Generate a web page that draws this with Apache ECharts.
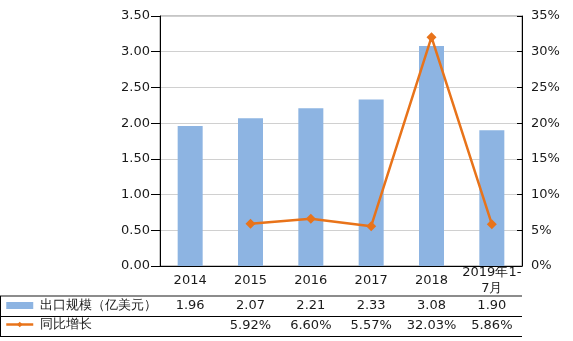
<!DOCTYPE html>
<html>
<head>
<meta charset="utf-8">
<script src="https://cdn.jsdelivr.net/npm/echarts@6/dist/echarts.min.js"></script>
<style>
  html, body { margin: 0; padding: 0; background: #fff; }
  #chart { width: 573px; height: 341px; }
</style>
</head>
<body>
<div id="chart"></div>
<script>
// Export scale (100 million USD) and year-on-year growth (%)
const categories = ['2014', '2015', '2016', '2017', '2018', '2019年1-\n7月'];
const exportValues = [1.96, 2.07, 2.21, 2.33, 3.08, 1.90];
const growthValues = [null, 5.92, 6.60, 5.57, 32.03, 5.86];
const leftTicks = { min: 0, max: 3.5, interval: 0.5 };
const rightTicks = { min: 0, max: 35, interval: 5 };
const seriesNames = ['出口规模（亿美元）', '同比增长'];

const FONT = 'DejaVu Sans';
const TEXT = '#1a1a1a';
const BAR = '#8DB4E2';
const LINE = '#E8731A';

const chart = echarts.init(document.getElementById('chart'), null, { renderer: 'canvas' });

// Rows of the data table below the plot, built as extra category axes
const exportRow = exportValues.map(v => v == null ? '' : v.toFixed(2));
const growthRow = growthValues.map(v => v == null ? '' : v.toFixed(2) + '%');

function tableAxis(data, offset) {
  return {
    type: 'category', data: data, position: 'bottom', offset: offset,
    axisLine: { show: false }, axisTick: { show: false },
    axisLabel: { color: TEXT, fontFamily: FONT, fontSize: 13, interval: 0, margin: 0, verticalAlign: 'middle' }
  };
}

const option = {
  animation: false,
  backgroundColor: '#fff',
  grid: { left: 160, right: 51, top: 16, bottom: 75, show: true, borderColor: '#8c8c8c', borderWidth: 1 },
  legend: {
    orient: 'vertical', left: 5, top: 299, itemGap: 6, padding: 0,
    itemWidth: 27, itemHeight: 7,
    textStyle: { color: TEXT, fontFamily: FONT, fontSize: 13, padding: [0, 0, 0, 2] },
    data: [
      { name: seriesNames[0], icon: 'rect' },
      { name: seriesNames[1], lineStyle: { width: 2.5, color: LINE }, itemStyle: { color: LINE } }
    ]
  },
  xAxis: [
    {
      type: 'category', data: categories, position: 'bottom',
      axisLine: { lineStyle: { color: '#000', width: 1 } },
      axisTick: { length: 70, lineStyle: { color: '#000' } },
      axisLabel: { color: TEXT, fontFamily: FONT, fontSize: 13, margin: 15, interval: 0, lineHeight: 16, verticalAlign: 'middle' }
    },
    tableAxis(exportRow, 40),
    tableAxis(growthRow, 60)
  ],
  yAxis: [
    {
      type: 'value', min: leftTicks.min, max: leftTicks.max, interval: leftTicks.interval,
      axisLine: { show: true, lineStyle: { color: '#000' } },
      axisTick: { show: true, length: 9, lineStyle: { color: '#000' } },
      axisLabel: { color: TEXT, fontFamily: FONT, fontSize: 13, margin: 10, formatter: v => v.toFixed(2) },
      splitLine: { lineStyle: { color: '#d0d0d0' } }
    },
    {
      type: 'value', min: rightTicks.min, max: rightTicks.max, interval: rightTicks.interval, position: 'right',
      axisLine: { show: true, lineStyle: { color: '#000' } },
      axisTick: { show: true, inside: true, length: 5, lineStyle: { color: '#000' } },
      axisLabel: { color: TEXT, fontFamily: FONT, fontSize: 13, margin: 9, formatter: '{value}%' },
      splitLine: { show: false }
    }
  ],
  series: [
    {
      name: seriesNames[0], type: 'bar', data: exportValues,
      xAxisIndex: 0, yAxisIndex: 0, barWidth: 25,
      itemStyle: { color: BAR }
    },
    {
      name: seriesNames[1], type: 'line', data: growthValues,
      xAxisIndex: 0, yAxisIndex: 1,
      symbol: 'diamond', symbolSize: 10, connectNulls: false,
      lineStyle: { color: LINE, width: 2.5 },
      itemStyle: { color: LINE }
    }
  ],
  graphic: [
    // table row borders
    { type: 'line', shape: { x1: 0, y1: 296, x2: 522, y2: 296 }, style: { stroke: '#8c8c8c', lineWidth: 2 } },
    { type: 'line', shape: { x1: 0, y1: 316.5, x2: 522, y2: 316.5 }, style: { stroke: '#000', lineWidth: 1 } },
    { type: 'line', shape: { x1: 0, y1: 336.5, x2: 522, y2: 336.5 }, style: { stroke: '#000', lineWidth: 1 } },
    { type: 'line', shape: { x1: 0.5, y1: 296, x2: 0.5, y2: 336.5 }, style: { stroke: '#000', lineWidth: 1 } }
  ]
};

chart.setOption(option);
</script>
</body>
</html>
